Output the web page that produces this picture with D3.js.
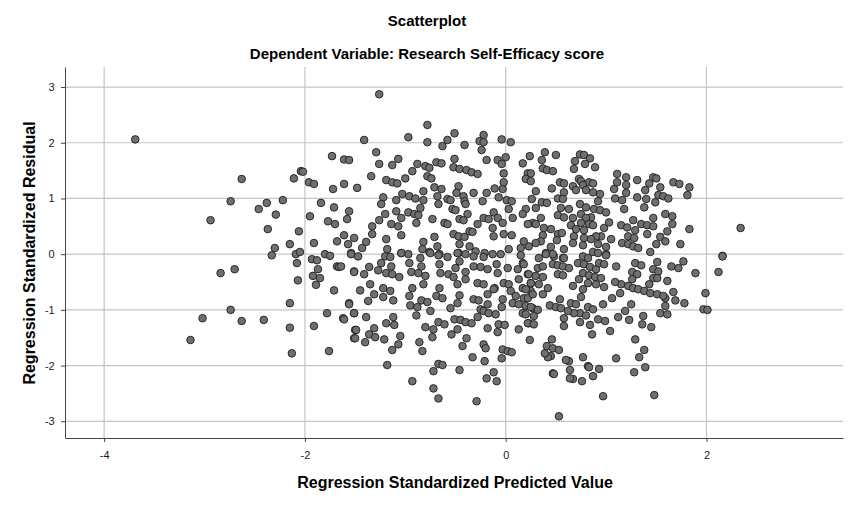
<!DOCTYPE html>
<html><head><meta charset="utf-8">
<script src="https://cdn.jsdelivr.net/npm/d3@7"></script>
<style>body{margin:0;background:#fff}svg{font-family:"Liberation Sans",Arial,sans-serif}</style>
</head><body><svg id="c" width="855" height="505"></svg>
<script>
const title = "Scatterplot";
const subtitle = "Dependent Variable: Research Self-Efficacy score";
const xLabel = "Regression Standardized Predicted Value";
const yLabel = "Regression Standardized Residual";
const xTicks = [-4,-2,0,2];
const yTicks = [3,2,1,0,-1,-2,-3];
// [predicted, residual]
const points = [
[-3.69,2.06],[-2.63,1.35],[-2.74,0.95],[-2.94,0.61],[-2.84,-0.34],[-2.70,-0.27],[-2.74,-1.0],[-3.02,-1.15],[-2.63,-1.2],[-3.14,-1.54],[-2.41,-1.18],[-2.15,-1.32],[-2.13,-1.78],[-1.76,-1.74],[-2.15,-0.88],
[-2.46,0.81],[-2.38,0.92],[-2.22,0.97],[-2.29,0.71],[-2.37,0.45],[-2.3,0.11],[-2.33,-0.02],[-2.15,0.18],[-2.06,0.41],[-2.09,0],[-2.05,0.04],[-2.08,-0.16],[-2.07,-0.47],
[-2.11,1.36],[-2.04,1.49],[-2.02,1.48],[-1.96,1.29],[-1.91,1.26],[-1.73,1.76],[-1.61,1.7],[-1.56,1.69],[-1.72,1.17],[-1.61,1.26],[-1.48,1.19],
[-1.84,0.92],[-1.71,0.84],[-1.56,0.77],[-1.95,0.68],[-1.77,0.59],[-1.70,0.54],[-1.58,0.63],[-1.61,0.34],[-1.51,0.29],[-1.68,0.23],[-1.57,0.18],[-1.91,0.2],[-1.54,0.02],[-1.8,0],[-1.75,-0.03],[-1.93,-0.09],[-1.88,-0.11],[-1.87,-0.27],[-1.92,-0.39],[-1.85,-0.43],[-1.89,-0.55],[-1.68,-0.22],[-1.66,-0.23],[-1.51,-0.31],[-1.71,-0.65],[-1.56,-0.88],[-1.78,-1.06],[-1.62,-1.15],[-1.51,-1.06],[-1.5,-1.36],[-1.51,-1.51],[-1.91,-1.29],
[-1.26,2.87],[-0.78,2.32],[-0.97,2.1],[-1.41,2.05],[-0.78,2.01],[-0.51,2.17],[-0.58,2.05],[-0.63,1.94],[-0.41,1.96],[-0.22,2.14],[-0.26,2.03],[-0.22,2.01],[-0.24,1.87],[-0.04,2.06],[0.05,2.01],
[-1.29,1.83],[-1.26,1.62],[-1.13,1.6],[-1.07,1.71],[-0.88,1.62],[-0.8,1.58],[-0.76,1.55],[-0.69,1.65],[-0.64,1.63],[-0.51,1.71],[-0.52,1.56],[-0.46,1.53],[-0.39,1.51],[-0.34,1.47],[-0.28,1.44],[-0.19,1.69],[-0.08,1.69],[-0.04,1.62],[0,1.74],
[-0.93,1.49],[-1.0,1.36],[-0.78,1.4],[-0.74,1.36],[-1.34,1.4],[-1.19,1.33],[-1.13,1.29],[-1.08,1.27],[-0.71,1.2],[-0.64,1.17],[-0.47,1.22],[-0.32,1.1],[-0.19,1.1],[-0.11,1.18],[-0.03,1.17],[-0.02,1.29],[-0.02,1.45],
[-1.22,1.02],[-1.03,1.08],[-0.96,1.04],[-0.9,1.0],[-0.82,1.13],[-0.82,0.97],[-1.09,0.97],[-0.68,1.04],[-0.58,0.99],[-0.55,0.97],[-0.49,1.1],[-0.42,1.04],[-0.41,0.95],[-0.23,0.95],[-0.07,1.02],[0.01,0.97],[0.06,0.95],
[-1.24,0.9],[-1.2,0.72],[-1.26,0.61],[-1.33,0.5],[-1.09,0.77],[-1.04,0.65],[-0.97,0.75],[-0.91,0.72],[-0.87,0.7],[-0.85,0.83],[-0.89,0.56],[-1.14,0.54],[-1.07,0.5],[-0.67,0.9],[-0.53,0.81],[-0.5,0.79],[-0.4,0.9],[-0.38,0.72],[-0.73,0.63],[-0.61,0.56],[-0.58,0.54],[-0.46,0.63],[-0.42,0.61],[-0.28,0.54],[-0.22,0.65],[-0.17,0.63],[-0.12,0.75],[-0.08,0.65],[-0.03,0.56],[0.03,0.81],[0.07,0.65],
[-1.33,0.36],[-1.39,0.22],[-1.19,0.27],[-1.04,0.34],[-0.82,0.22],[-0.71,0.31],[-0.68,0.14],[-0.52,0.36],[-0.47,0.32],[-0.41,0.31],[-0.36,0.41],[-0.33,0.4],[-0.46,0.18],[-0.36,0.14],[-0.13,0.47],[-0.12,0.32],[-0.02,0.36],[0.06,0.34],
[-1.43,0.11],[-1.18,0.09],[-1.04,0.02],[-0.97,0],[-0.83,0.09],[-0.76,0.04],[-0.66,0],[-0.47,0.02],[-0.3,0.05],[-0.21,0.02],[-0.05,0],[0.03,0.09],[0.15,0.11],
[0.39,1.83],[0.24,1.76],[0.5,1.78],[0.36,1.69],[0.74,1.79],[0.78,1.78],[0.84,1.72],[0.69,1.67],[0.79,1.62],[0.89,1.56],[0.68,1.53],[0.37,1.54],[0.41,1.51],[0.47,1.49],[0.17,1.63],[0.22,1.45],[0.25,1.45],[0.2,1.35],[0.25,1.31],[0.54,1.29],[0.58,1.27],[0.73,1.35],[0.75,1.31],[0.83,1.29],[0.87,1.27],[0.67,1.22],[0.77,1.24],[0.46,1.18],[0.3,1.13],[0.58,1.11],[0.7,1.15],[0.8,1.15],[0.87,1.11],[0.94,1.08],
[1.11,1.44],[1.2,1.38],[1.11,1.29],[1.2,1.24],[1.31,1.33],[1.47,1.38],[1.5,1.36],[1.43,1.27],[1.54,1.2],[1.67,1.29],[1.73,1.26],[1.83,1.2],[1.81,1.06],[1.08,1.17],[1.2,1.1],[1.39,1.15],[1.31,1.02],[1.4,0.99],[1.52,1.06],[1.57,1.04],[1.62,1.0],[1.49,0.93],[1.38,0.84],[1.09,1.0],[1.16,0.97],[1.18,0.81],[0.92,0.95],
[0.26,0.99],[0.52,1.0],[0.57,0.99],[0.36,0.93],[0.41,0.92],[0.74,0.9],[0.8,0.84],[0.88,0.81],[0.94,0.79],[1.0,0.75],[0.3,0.83],[0.55,0.83],[0.63,0.81],[0.2,0.81],[0.17,0.72],[0.52,0.7],[0.58,0.66],[0.67,0.65],[0.75,0.72],[0.85,0.66],[0.8,0.65],[0.35,0.65],[0.27,0.56],[0.22,0.54],[0.3,0.54],[0.38,0.47],[0.45,0.45],[0.65,0.52],[0.75,0.56],[0.83,0.54],[0.87,0.52],[0.98,0.47],[1.03,0.57],[1.15,0.52],[1.21,0.48],[1.27,0.61],[1.35,0.54],[1.41,0.52],[1.47,0.5],[1.47,0.65],[1.59,0.72],[1.66,0.68],[1.66,0.54],
[1.29,0.43],[1.41,0.36],[1.54,0.31],[1.59,0.23],[1.61,0.41],[1.83,0.45],[1.74,0.18],[1.22,0.32],[1.28,0.29],[1.16,0.2],[1.22,0.18],[1.27,0.14],[1.32,0.11],[1.5,0.18],[1.44,0.04],[1.05,0.27],[1.0,0.13],[0.95,0.32],[0.9,0.32],[0.78,0.43],[0.7,0.45],[0.68,0.32],[0.78,0.29],[0.85,0.27],[0.92,0.18],[0.52,0.36],[0.56,0.38],[0.37,0.34],[0.35,0.23],[0.51,0.25],[0.45,0.13],[0.3,0.2],[0.23,0.14],[0.18,0.23],[0.67,0.2],[0.77,0.16],[0.87,0.04],[1.0,0],[0.58,0.09],[0.4,0.02],
[2.34,0.47],[2.16,-0.03],[1.77,-0.13],
[-1.54,0],[-1.47,-0.04],[-1.2,-0.04],[-1.15,-0.05],[-1.04,0.02],[-0.85,-0.07],[-0.75,0.02],[-0.67,-0.02],[-0.58,-0.05],[-0.48,0.02],[-0.4,0],[-0.32,-0.04],[-0.22,-0.05],[-0.13,0],[0.15,-0.02],
[-1.64,-0.22],[-1.51,-0.32],[-1.41,-0.36],[-1.36,-0.23],[-1.27,-0.29],[-1.24,-0.16],[-1.19,-0.34],[-1.14,-0.22],[-1.13,-0.36],[-1.06,-0.41],[-0.96,-0.16],[-0.94,-0.32],[-0.87,-0.34],[-0.8,-0.39],[-0.84,-0.22],[-0.82,-0.54],[-0.66,-0.18],[-0.65,-0.34],[-0.57,-0.36],[-0.5,-0.25],[-0.46,-0.13],[-0.4,-0.32],[-0.32,-0.22],[-0.25,-0.23],[-0.18,-0.27],[-0.09,-0.18],[-0.08,-0.34],[0.02,-0.25],[0.12,-0.27],[0.17,-0.16],[0.22,-0.36],[0.32,-0.25],
[-0.52,-0.41],[-0.48,-0.54],[-0.4,-0.45],[-0.28,-0.52],[-0.22,-0.54],[-0.11,-0.61],[-0.02,-0.52],[0.03,-0.54],[0.13,-0.45],[0.25,-0.52],
[-1.35,-0.54],[-1.45,-0.65],[-1.31,-0.72],[-1.37,-0.84],[-1.56,-0.9],[-1.22,-0.61],[-1.15,-0.66],[-1.22,-0.77],[-1.12,-0.83],[-0.93,-0.61],[-0.96,-0.75],[-0.95,-0.92],[-0.88,-0.95],[-0.84,-0.83],[-0.78,-0.86],[-0.75,-1.02],[-0.89,-1.1],[-0.69,-0.75],[-0.66,-0.61],[-0.63,-0.79],[-0.55,-0.97],[-0.48,-0.88],[-0.46,-0.74],[-0.32,-0.81],[-0.27,-0.83],[-0.18,-0.72],[-0.12,-0.63],[-0.03,-0.81],[0.05,-0.66],[0.1,-0.75],[0.18,-0.79],[0.25,-0.66],
[-0.18,-0.9],[-0.25,-0.99],[-0.22,-1.02],[-0.17,-1.06],[-0.1,-1.08],[-0.04,-0.95],[0.07,-0.88],[0.13,-0.9],[0.2,-0.93],[0.27,-0.97],[0.17,-1.06],
[-1.51,-1.06],[-1.39,-1.13],[-1.61,-1.17],[-1.12,-1.13],[-1.19,-1.24],[-1.11,-1.27],[-1.31,-1.33],[-1.36,-1.44],[-1.49,-1.36],[-1.5,-1.51],[-1.4,-1.58],[-1.3,-1.49],[-1.21,-1.53],[-1.05,-1.47],[-1.07,-1.62],[-1.13,-1.72],[-0.86,-1.58],[-0.83,-1.74],[-0.8,-1.31],[-0.72,-1.35],[-0.73,-1.49],[-0.67,-1.22],[-0.61,-1.26],[-0.51,-1.17],[-0.45,-1.18],[-0.4,-1.22],[-0.34,-1.24],[-0.48,-1.35],[-0.54,-1.44],[-0.39,-1.51],[-0.43,-1.65],[-0.28,-1.13],[-0.18,-1.33],[-0.07,-1.26],[-0.01,-1.27],[-0.08,-1.4],[-0.22,-1.62],[-0.2,-1.69],[-0.03,-1.71],[0.02,-1.74],[0.06,-1.76],[0.13,-1.35],[0.24,-1.54],[0.23,-1.24],
[-0.04,-1.87],[-0.21,-1.92],[-0.33,-1.85],[-1.18,-1.99],[-0.72,-2.1],[-0.67,-1.97],[-0.63,-1.99],[-0.46,-2.08],[-0.93,-2.28],[-0.72,-2.41],[-0.67,-2.59],[-0.29,-2.64],[-0.19,-2.23],[-0.12,-2.12],[-0.09,-2.28],
[2.16,-0.04],[2.12,-0.32],[1.99,-0.7],[1.97,-0.99],[2.01,-1.0],[1.89,-0.34],[1.72,-0.25],[1.65,-0.22],[1.61,-0.48],[1.67,-0.68],[1.69,-0.83],[1.78,-0.88],[1.59,-0.79],[1.59,-0.93],[1.54,-1.06],[1.61,-1.08],[1.51,-0.14],[1.47,-0.27],[1.52,-0.31],[1.47,-0.43],[1.51,-0.43],[1.43,-0.54],[1.29,-0.16],[1.35,-0.2],[1.26,-0.32],[1.31,-0.36],[1.26,-0.45],[1.22,-0.57],[1.27,-0.61],[1.32,-0.63],[1.38,-0.66],[1.44,-0.7],[1.51,-0.72],[1.57,-0.75],
[1.15,-0.54],[1.09,-0.5],[1.14,-0.7],[1.06,-0.79],[1.25,-0.9],[1.19,-1.02],[1.23,-1.18],[1.12,-1.13],[1.37,-1.11],[1.36,-1.26],[1.45,-1.31],[1.29,-1.53],[1.38,-1.72],[1.33,-1.85],[1.39,-2.03],[1.28,-2.12],[1.48,-2.53],[1.1,-0.22],[0.97,-0.9],[1.04,-1.38],[0.99,-1.2],[0.92,-1.17],[0.86,-1.44],[0.84,-1.27],[1.1,-1.87],[0.93,-2.06],[0.87,-2.19],[0.82,-2.01],[0.83,-2.03],[0.77,-1.85],[0.76,-2.28],[0.67,-2.24],[0.64,-2.23],[0.64,-2.08],[0.63,-1.92],[0.6,-1.9],[0.97,-2.55],[0.53,-2.91],[0.47,-2.14],[0.48,-2.15],[0.45,-1.83],[0.42,-1.85],[0.39,-1.78],[0.41,-1.65],[0.47,-1.69],[0.53,-1.72],[0.46,-1.53],
[0.58,-1.29],[0.58,-1.15],[0.74,-1.22],[0.74,-1.06],[0.8,-1.1],[0.75,-0.77],[0.82,-0.95],[0.87,-0.99],[0.68,-1.06],[0.62,-1.02],[0.65,-0.88],[0.7,-0.9],[0.54,-0.81],[0.44,-0.92],[0.5,-0.95],[0.55,-0.97],[0.22,-1.24],[0.28,-1.26],[0.28,-1.11],[0.32,-1.0],[0.2,-1.08],[0.25,-0.95],[0.22,-0.79],[0.27,-0.72],[0.37,-0.72],[0.42,-0.61],[0.33,-0.54],[0.25,-0.52],[0.23,-0.36],[0.3,-0.39],[0.37,-0.41],
[0.33,-0.07],[0.4,0],[0.48,-0.04],[0.57,-0.07],[0.47,-0.18],[0.52,-0.2],[0.57,-0.22],[0.63,-0.25],[0.37,-0.22],[0.52,-0.36],[0.57,-0.38],[0.67,-0.57],[0.73,-0.45],[0.77,-0.63],[0.72,-0.16],[0.78,-0.18],[0.84,-0.23],[0.9,-0.27],[0.77,-0.34],[0.83,-0.38],[0.89,-0.41],[0.95,-0.43],[0.82,-0.52],[0.9,-0.54],[0.98,-0.59],[0.93,-0.16],[0.98,-0.18],[1.0,-0.02],[0.77,-0.04],[0.82,-0.07],[0.92,0.02],[0.47,0],[0.58,-0.07],[0.18,-0.18],[0.17,-0.61],[0.2,-0.63]
];

const svg = d3.select("#c");
const L=65,R=843,T=67,B=438;
const x = d3.scaleLinear().domain([-4.39,3.36]).range([L,R]);
const y = d3.scaleLinear().domain([-3.30,3.36]).range([B,T]);

svg.append("text").attr("x",427).attr("y",26).attr("text-anchor","middle").attr("font-size",15).attr("font-weight","bold").text(title);
svg.append("text").attr("x",427).attr("y",59).attr("text-anchor","middle").attr("font-size",15).attr("font-weight","bold").text(subtitle);

const g = svg.append("g");
g.selectAll(".hg").data(yTicks).join("line").attr("x1",L).attr("x2",R).attr("y1",d=>y(d)).attr("y2",d=>y(d)).attr("stroke","#c4c4c4").attr("stroke-width",1.2);
g.selectAll(".vg").data(xTicks).join("line").attr("y1",T).attr("y2",B).attr("x1",d=>x(d)).attr("x2",d=>x(d)).attr("stroke","#c4c4c4").attr("stroke-width",1.2);

const fmt = d => String(d);
const xa = svg.append("g").attr("transform",`translate(0,${B})`).call(d3.axisBottom(x).tickValues(xTicks).tickFormat(fmt).tickSize(4).tickSizeOuter(0));
const ya = svg.append("g").attr("transform",`translate(${L},0)`).call(d3.axisLeft(y).tickValues(yTicks).tickFormat(fmt).tickSize(4).tickSizeOuter(0));
[xa,ya].forEach(a=>{a.select(".domain").attr("stroke","#444");a.selectAll(".tick line").attr("stroke","#444");a.selectAll("text").attr("font-size",11).attr("fill","#222").attr("font-family","Liberation Sans, Arial, sans-serif");});
xa.selectAll("text").attr("dy","1.3em");
ya.selectAll("text").attr("dx","-0.3em");

svg.append("g").selectAll("circle").data(points).join("circle")
 .attr("cx",d=>x(d[0])).attr("cy",d=>y(d[1])).attr("r",3.8)
 .attr("fill","#6f6f6f").attr("stroke","#1e1e1e").attr("stroke-width",0.9);

svg.append("text").attr("x",455).attr("y",488).attr("text-anchor","middle").attr("font-size",16).attr("font-weight","bold").text(xLabel);
svg.append("text").attr("transform","translate(35,253) rotate(-90)").attr("text-anchor","middle").attr("font-size",16).attr("font-weight","bold").text(yLabel);
</script></body></html>
